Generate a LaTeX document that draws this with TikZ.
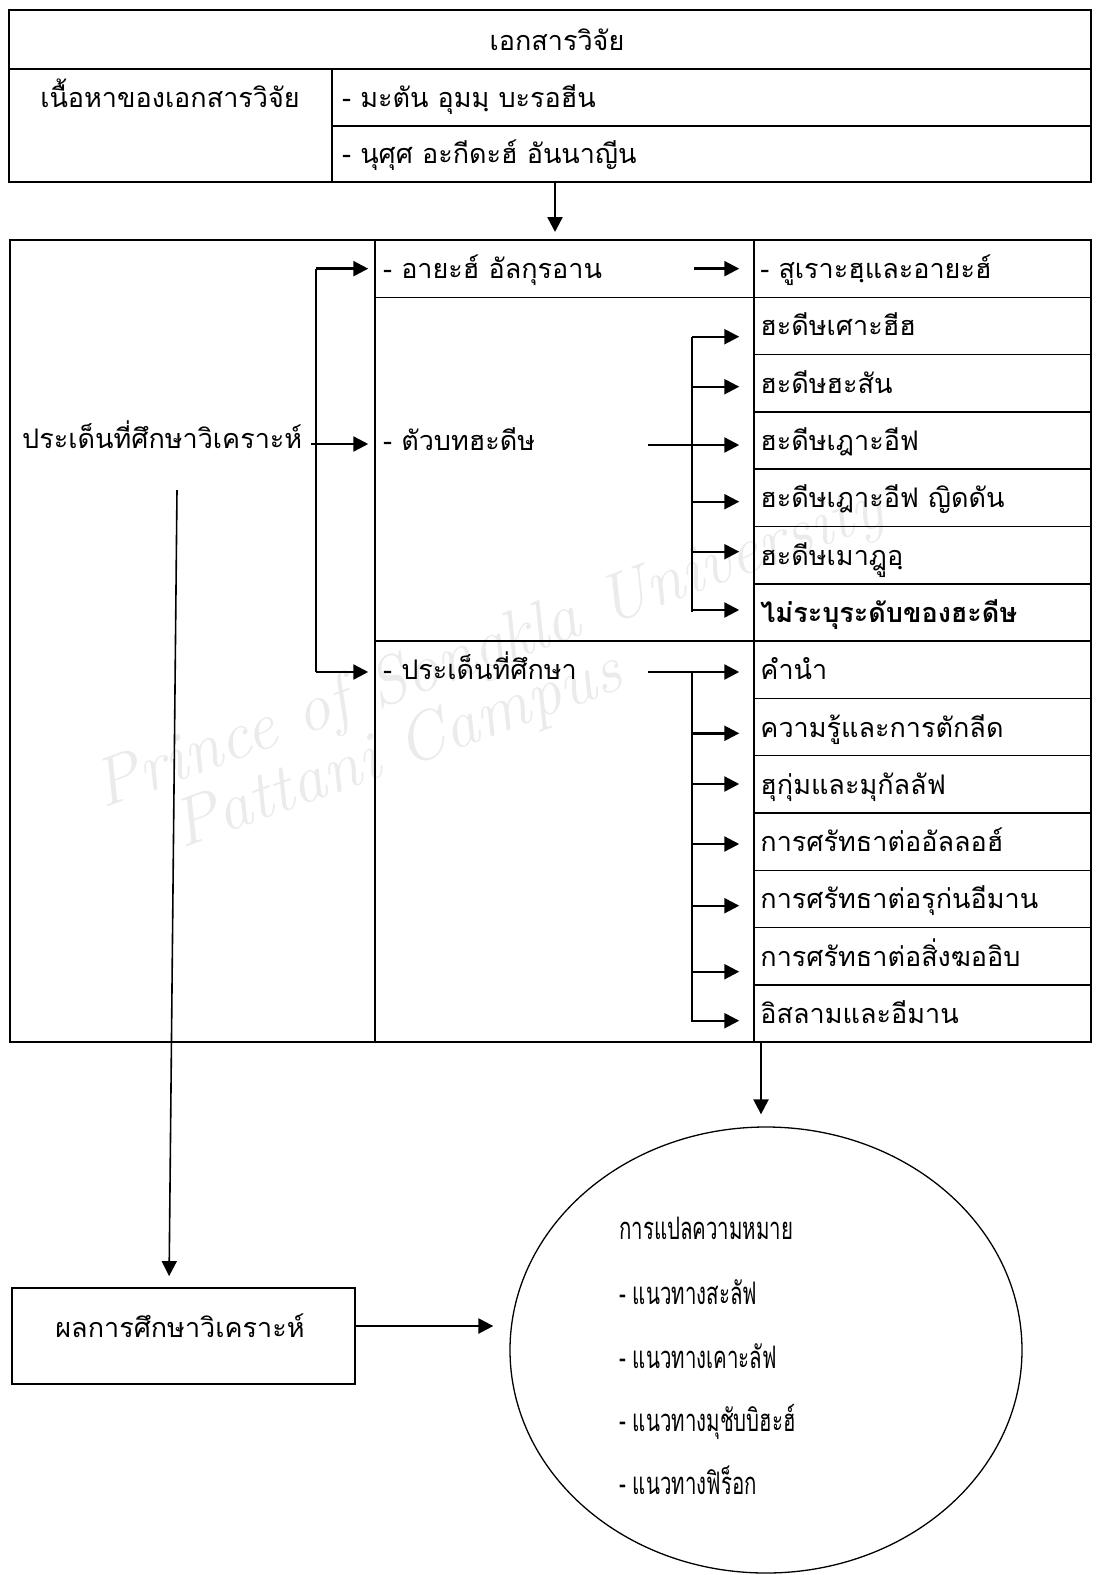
\documentclass[tikz,border=0pt]{standalone}
\usepackage{fontspec}
\newfontfamily\thaifont[Script=Thai]{Loma}
\newfontfamily\thaicond[Script=Thai,FakeStretch=0.66]{Loma}
\usetikzlibrary{arrows.meta,fit,shapes.geometric}
\begin{document}
\begin{tikzpicture}[x=1pt,y=-1pt,
  cell/.style={draw, line width=1.5pt, inner sep=0pt, rectangle},
  txt/.style={font=\thaifont\fontsize{27}{30}\selectfont, inner sep=0pt, anchor=base west},
  ctxt/.style={font=\thaifont\fontsize{27}{30}\selectfont, inner sep=0pt, anchor=base},
  etxt/.style={font=\thaicond\fontsize{31}{33}\selectfont, inner sep=0pt, anchor=base west},
  arr/.style={line width=2.4pt, -{Triangle[length=15pt,width=15pt]}},
  branch/.style={line width=1.5pt},
  wm/.style={text=black!8, font=\itshape\fontsize{68}{68}\selectfont, rotate=20, inner sep=0pt}
]
\useasboundingbox (0,0) rectangle (1096,1575);
% watermark
\node[wm] (wm1) at (490,650) {Prince of Songkla University};
\node[wm] (wm2) at (398,752) {Pattani Campus};
% top table
\node[cell, fit={(9,10) (1091,69)}] (t0) {};
\node[cell, fit={(9,69) (332,182)}] (t1) {};
\node[cell, fit={(332,69) (1091,126)}] (t2) {};
\node[cell, fit={(332,126) (1091,182)}] (t3) {};
\node[ctxt] (t0t) at (557,50) {เอกสารวิจัย};
\node[ctxt] (t1t) at (170,107) {เนื้อหาของเอกสารวิจัย};
\node[txt] (t2t) at (342,107) {- มะตัน อุมมฺ บะรอฮีน};
\node[txt] (t3t) at (342,163) {- นุศุศ อะกีดะฮ์ อันนาญีน};
% big table
\node[cell, fit={(10,240) (375,1042)}] (lc) {};
\node[cell, fit={(375,240) (754,297.3)}] (m1) {};
\node[cell, fit={(375,297.3) (754,641)}] (m2) {};
\node[cell, fit={(375,641) (754,1042)}] (m3) {};
\foreach \i in {1,...,14}{
  \pgfmathsetmacro{\ya}{240+57.3*(\i-1)}
  \pgfmathsetmacro{\yb}{240+57.3*\i}
  \node[cell, fit={(754,\ya) (1091,\yb)}] (r\i) {};
}
\node[cell, line width=2pt, fit={(10,240) (1091,1042)}] (big) {};
\node[txt] (lct) at (22,448) {ประเด็นที่ศึกษาวิเคราะห์};
\node[txt] (m1t) at (383,278) {- อายะฮ์ อัลกุรอาน};
\node[txt] (m2t) at (383,450) {- ตัวบทฮะดีษ};
\node[txt] (m3t) at (383,679) {- ประเด็นที่ศึกษา};
\foreach \i/\t in {1/{- สูเราะฮฺและอายะฮ์},2/{ฮะดีษเศาะฮีฮ},3/{ฮะดีษฮะสัน},4/{ฮะดีษเฎาะอีฟ},5/{ฮะดีษเฎาะอีฟ ญิดดัน},6/{ฮะดีษเมาฎูอฺ},7/{\bfseries ไม่ระบุระดับของฮะดีษ},8/{คำนำ},9/{ความรู้และการตักลีด},10/{ฮุกุ่มและมุกัลลัฟ},11/{การศรัทธาต่ออัลลอฮ์},12/{การศรัทธาต่อรุก่นอีมาน},13/{การศรัทธาต่อสิ่งฆออิบ},14/{อิสลามและอีมาน}}{
  \node[txt] (rt\i) at ([xshift=7pt,yshift=-10pt]r\i.west) {\t};
}
% arrow top -> big
\draw[arr, shorten >=7pt] (555,0 |- t3.south) -- (555,0 |- big.north);
% left branch
\coordinate (lbtop) at (316,0 |- m1.west);
\coordinate (lbbot) at (316,672);
\coordinate (lbmid) at (311,444);
\draw[branch] (lbtop) -- (lbbot);
\draw[arr, shorten >=6pt] (lbtop) -- (m1.west);
\draw[arr, shorten >=6pt] (lbmid) -- (m2.west |- lbmid);
\draw[arr, shorten >=6pt] (lbbot) -- (m3.west |- lbbot);
% m1 -> r1
\coordinate (a1) at (694,0 |- m1.west);
\draw[arr, shorten >=14pt] (a1) -- (r1.west);
% hadith branch
\coordinate (hin) at (648,445);
\draw[arr, shorten >=14pt] (hin) -- (r4.west |- hin);
\draw[branch] (692,336.7) -- (692,612);
\foreach \i/\y in {2/336.7,3/386.7,5/501.7,6/551.7,7/610}{
  \draw[arr, shorten >=14pt] (692,\y) -- (r\i.west |- 0,\y);
}
% issues branch
\coordinate (pin) at (648,672);
\draw[arr, shorten >=14pt] (pin) -- (r8.west |- pin);
\draw[branch] (692,672) -- (692,1021.5);
\foreach \i/\y in {9/733.3,10/784,11/844,12/905.7,13/971.7,14/1020.7}{
  \draw[arr, shorten >=14pt] (692,\y) -- (r\i.west |- 0,\y);
}
% bottom part
\node[cell, line width=1.8pt, fit={(12,1288) (355,1384)}] (res) {};
\node[ctxt] (rest) at (180,1337) {ผลการศึกษาวิเคราะห์};
\node[draw, ellipse, line width=1.3pt, minimum width=512pt, minimum height=446pt, inner sep=0pt] (ell) at (766,1350) {};
\node[etxt] (e0) at (619,1239) {การแปลความหมาย};
\node[etxt] (e1) at (619,1304) {- แนวทางสะลัฟ};
\node[etxt] (e2) at (619,1368) {- แนวทางเคาะลัฟ};
\node[etxt] (e3) at (619,1431) {- แนวทางมุชับบิฮะฮ์};
\node[etxt] (e4) at (619,1494) {- แนวทางฟิร็อก};
\coordinate (ls) at (177,490);
\draw[arr, line width=1.6pt, shorten >=11pt] (ls) -- (169,0 |- res.north);
\draw[arr, shorten >=12pt] (761,0 |- big.south) -- (761,0 |- ell.north);
\coordinate (rarr) at (res.east |- 0,1326);
\draw[arr, shorten >=16pt] (rarr) -- (ell.west |- rarr);
\end{tikzpicture}
\end{document}
